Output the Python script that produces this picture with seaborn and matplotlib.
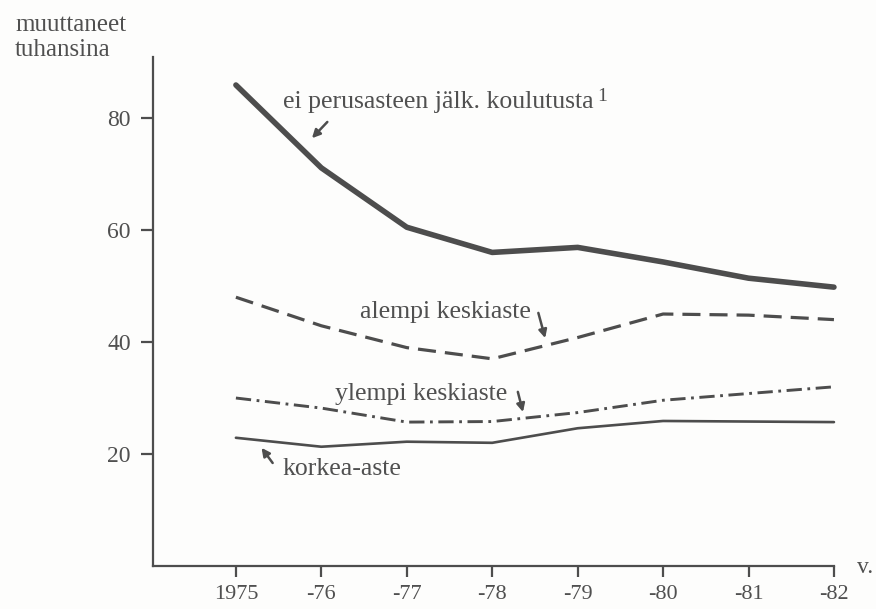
import matplotlib
matplotlib.use("Agg")
import matplotlib.pyplot as plt
import seaborn as sns
import pandas as pd

# Migrants by level of education, thousands
years = [1975, 1976, 1977, 1978, 1979, 1980, 1981, 1982]
year_labels = ["1975", "-76", "-77", "-78", "-79", "-80", "-81", "-82"]
basic_only = [85.9, 71.1, 60.5, 56.0, 56.9, 54.3, 51.4, 49.8]       # ei perusasteen jälk. koulutusta
lower_secondary = [48.0, 42.9, 39.0, 37.0, 40.8, 45.0, 44.8, 44.0]  # alempi keskiaste
upper_secondary = [30.0, 28.2, 25.7, 25.8, 27.4, 29.6, 30.8, 32.0]  # ylempi keskiaste
tertiary = [22.9, 21.3, 22.2, 22.0, 24.6, 25.9, 25.8, 25.7]         # korkea-aste
y_ticks = [20, 40, 60, 80]

sns.set_theme(style="white")
plt.rcParams["font.family"] = ["Liberation Serif", "DejaVu Serif"]
plt.rcParams["lines.scale_dashes"] = False

ink = "#4d4d4d"
text_col = "#505050"
paper = "#fdfdfc"

df = pd.DataFrame({"year": years, "basic": basic_only, "lower": lower_secondary,
                   "upper": upper_secondary, "tertiary": tertiary})

fig = plt.figure(figsize=(8.76, 6.09), dpi=100)
fig.patch.set_facecolor(paper)
ax = fig.add_axes([0.1747, 0.0706, 0.952 - 0.1747, 0.9064 - 0.0706])
ax.set_facecolor(paper)

styles = [
    ("basic", "-", 4.0),
    ("lower", (0, (13, 6.5)), 2.3),
    ("upper", (0, (11, 4, 2, 4)), 2.1),
    ("tertiary", "-", 1.9),
]
for col, ls, lw in styles:
    sns.lineplot(data=df, x="year", y=col, ax=ax, color=ink, linestyle=ls,
                 linewidth=lw, clip_on=False, legend=False)

ax.set_xlim(1974.03, 1982.0)
ax.set_ylim(0, 90.9)
ax.set_xticks(years)
ax.set_xticklabels(year_labels)
ax.set_yticks(y_ticks)
ax.set_xlabel("")
ax.set_ylabel("")

for side in ["top", "right"]:
    ax.spines[side].set_visible(False)
for side in ["left", "bottom"]:
    ax.spines[side].set_color(ink)
    ax.spines[side].set_linewidth(1.6)

ax.tick_params(axis="x", direction="out", length=8, width=1.6, color=ink,
               labelsize=16, labelcolor=text_col, pad=6, bottom=True)
ax.tick_params(axis="y", direction="out", length=9, width=1.6, color=ink,
               labelsize=17, labelcolor=text_col, pad=7, left=True)

# axis captions
fig.text(15 / 876, 1 - 31 / 609, "muuttaneet", ha="left", va="baseline",
         fontsize=18, color=text_col)
fig.text(15 / 876, 1 - 56 / 609, "tuhansina", ha="left", va="baseline",
         fontsize=18, color=text_col)
fig.text(857 / 876, 1 - 573 / 609, "v.", ha="left", va="baseline",
         fontsize=17, color=text_col)

# series labels with small arrows
lab_kw = dict(fontsize=18.5, color=text_col, ha="left", va="baseline")
arrow_kw = dict(arrowstyle="-|>", color=ink, lw=1.8, mutation_scale=12,
                shrinkA=0, shrinkB=0)

top_label = ax.text(1975.55, 81.8, "ei perusasteen jälk. koulutusta", **lab_kw)
ax.annotate("1", xy=(1, 1), xycoords=top_label, xytext=(3, 2),
            textcoords="offset points", ha="left", va="top",
            fontsize=14, color=text_col)
ax.annotate("", xy=(1975.89, 76.4), xytext=(1976.07, 79.3), arrowprops=arrow_kw)

ax.text(1976.45, 44.3, "alempi keskiaste", **lab_kw)
ax.annotate("", xy=(1978.62, 40.7), xytext=(1978.54, 45.2), arrowprops=arrow_kw)

ax.text(1976.16, 29.6, "ylempi keskiaste", **lab_kw)
ax.annotate("", xy=(1978.36, 27.5), xytext=(1978.30, 31.1), arrowprops=arrow_kw)

ax.text(1975.55, 16.25, "korkea-aste", **lab_kw)
ax.annotate("", xy=(1975.30, 21.1), xytext=(1975.43, 18.4), arrowprops=arrow_kw)

fig.savefig("out.png", dpi=100, facecolor=fig.get_facecolor())
